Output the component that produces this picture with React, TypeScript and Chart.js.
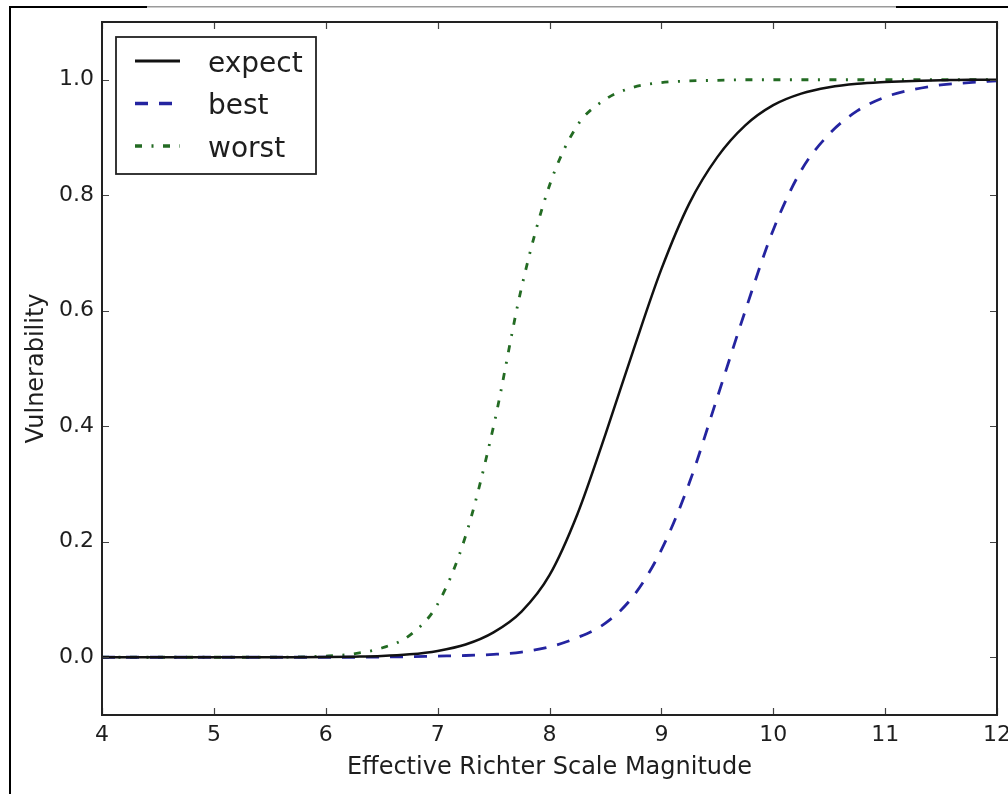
import { useEffect, useRef } from "react";
import { Chart, registerables } from "chart.js";

Chart.register(...registerables);

// ---- data ----
const magnitudes = [
  4, 4.25, 4.5, 4.75, 5, 5.25, 5.5, 5.75, 6, 6.25, 6.5, 6.75, 7, 7.25, 7.5, 7.75,
  8, 8.25, 8.5, 8.75, 9, 9.25, 9.5, 9.75, 10, 10.25, 10.5, 10.75, 11, 11.25, 11.5, 11.75, 12,
];
const expectValues = [
  0, 0, 0, 0, 0, 0, 0, 0.0002, 0.0005, 0.001, 0.002, 0.005, 0.011, 0.022, 0.043, 0.079,
  0.142, 0.248, 0.386, 0.532, 0.672, 0.786, 0.866, 0.921, 0.956, 0.976, 0.987, 0.993, 0.996, 0.998, 0.999, 1.0, 1.0,
];
const bestValues = [
  0, 0, 0, 0, 0, 0, 0, 0, 0, 0, 0.0005, 0.001, 0.002, 0.003, 0.005, 0.009,
  0.018, 0.034, 0.059, 0.106, 0.186, 0.302, 0.45, 0.6, 0.74, 0.843, 0.906, 0.946, 0.97, 0.983, 0.991, 0.995, 0.998,
];
const worstValues = [
  0, 0, 0, 0, 0, 0, 0, 0.0005, 0.002, 0.006, 0.016, 0.038, 0.092, 0.21, 0.4, 0.64,
  0.817, 0.921, 0.966, 0.987, 0.995, 0.998, 0.999, 1.0, 1.0, 1.0, 1.0, 1.0, 1.0, 1.0, 1.0, 1.0, 1.0,
];
const seriesLabels = ["expect", "best", "worst"];
const xTicks = [4, 5, 6, 7, 8, 9, 10, 11, 12];
const yTicks = [0, 0.2, 0.4, 0.6, 0.8, 1.0];
const xTitle = "Effective Richter Scale Magnitude";
const yTitle = "Vulnerability";

const FONT = "'DejaVu Sans', 'Liberation Sans', sans-serif";
const TEXT = "#1e1e1e";

const toPoints = (vals: number[]) => magnitudes.map((x, i) => ({ x, y: vals[i] }));

const framePlugin = {
  id: "frameAndLegend",
  beforeDraw(chart: any) {
    const ctx = chart.ctx;
    ctx.save();
    ctx.fillStyle = "#ffffff";
    ctx.fillRect(0, 0, chart.width, chart.height);
    ctx.restore();
  },
  afterDraw(chart: any) {
    const ctx = chart.ctx;
    const { left, top, right, bottom } = chart.chartArea;
    const xs = chart.scales.x;
    const ys = chart.scales.y;
    ctx.save();
    // inward tick marks
    ctx.strokeStyle = "#444444";
    ctx.lineWidth = 1.2;
    ctx.beginPath();
    xTicks.forEach((v) => {
      const px = Math.round(xs.getPixelForValue(v)) + 0.5;
      ctx.moveTo(px, bottom);
      ctx.lineTo(px, bottom - 7);
      ctx.moveTo(px, top);
      ctx.lineTo(px, top + 7);
    });
    yTicks.forEach((v) => {
      const py = Math.round(ys.getPixelForValue(v)) + 0.5;
      ctx.moveTo(left, py);
      ctx.lineTo(left + 7, py);
      ctx.moveTo(right, py);
      ctx.lineTo(right - 7, py);
    });
    ctx.stroke();
    // spines
    ctx.strokeStyle = "#222222";
    ctx.lineWidth = 2;
    ctx.strokeRect(left, top, right - left, bottom - top);

    // legend
    const lx = 116, ly = 37, lw = 200, lh = 137;
    ctx.fillStyle = "#ffffff";
    ctx.fillRect(lx, ly, lw, lh);
    ctx.strokeStyle = "#222222";
    ctx.lineWidth = 1.8;
    ctx.strokeRect(lx, ly, lw, lh);
    chart.data.datasets.forEach((ds: any, i: number) => {
      const rowY = 61 + i * 42.5;
      ctx.save();
      ctx.strokeStyle = ds.borderColor;
      ctx.lineWidth = ds.borderWidth + 0.5;
      ctx.setLineDash(ds.borderDash || []);
      ctx.beginPath();
      ctx.moveTo(135, rowY);
      ctx.lineTo(180, rowY);
      ctx.stroke();
      ctx.restore();
      ctx.fillStyle = TEXT;
      ctx.font = `28px ${FONT}`;
      ctx.textAlign = "left";
      ctx.textBaseline = "alphabetic";
      ctx.fillText(ds.label, 208, rowY + 10.5);
    });

    // outer frame (screenshot border)
    ctx.fillStyle = "#000000";
    ctx.fillRect(9, 6, 2, chart.height - 6);
    ctx.fillRect(9, 6, 138, 2);
    ctx.fillRect(896, 6, chart.width - 896, 2);
    ctx.fillStyle = "#9a9a9a";
    ctx.fillRect(147, 6, 749, 1.5);
    ctx.restore();
  },
};

export default function App() {
  const ref = useRef<HTMLCanvasElement | null>(null);
  useEffect(() => {
    document.body.style.margin = "0";
    const canvas = ref.current;
    if (!canvas) return;
    const chart = new Chart(canvas, {
      type: "line",
      data: {
        datasets: [
          {
            label: seriesLabels[0],
            data: toPoints(expectValues),
            borderColor: "#111111",
            borderWidth: 2.5,
            borderDash: [],
            pointRadius: 0,
            cubicInterpolationMode: "monotone",
            fill: false,
          },
          {
            label: seriesLabels[1],
            data: toPoints(bestValues),
            borderColor: "#2424a0",
            borderWidth: 2.8,
            borderDash: [13, 11],
            pointRadius: 0,
            cubicInterpolationMode: "monotone",
            fill: false,
          },
          {
            label: seriesLabels[2],
            data: toPoints(worstValues),
            borderColor: "#236b23",
            borderWidth: 2.8,
            borderDash: [7, 9.5, 2, 9.5],
            pointRadius: 0,
            cubicInterpolationMode: "monotone",
            fill: false,
          },
        ],
      } as any,
      options: {
        animation: false,
        responsive: false,
        devicePixelRatio: 1,
        layout: { padding: { left: 0, top: 22, right: 11, bottom: 0 } },
        plugins: { legend: { display: false }, tooltip: { enabled: false } },
        scales: {
          x: {
            type: "linear",
            min: 4,
            max: 12,
            afterBuildTicks: (s: any) => {
              s.ticks = xTicks.map((v) => ({ value: v }));
            },
            afterFit: (s: any) => {
              s.height = 79;
              s.paddingLeft = 0;
              s.paddingRight = 0;
            },
            grid: { display: false, drawTicks: false },
            border: { display: false },
            ticks: {
              autoSkip: false,
              maxRotation: 0,
              padding: 7,
              color: TEXT,
              font: { family: FONT, size: 22 },
              callback: (v: any) => String(v),
            },
            title: {
              display: true,
              text: xTitle,
              color: TEXT,
              font: { family: FONT, size: 24 },
              padding: { top: 0, bottom: 12 },
            },
          },
          y: {
            type: "linear",
            min: -0.1,
            max: 1.1,
            afterBuildTicks: (s: any) => {
              s.ticks = yTicks.map((v) => ({ value: v }));
            },
            afterFit: (s: any) => {
              s.width = 102;
              s.paddingTop = 0;
              s.paddingBottom = 0;
            },
            grid: { display: false, drawTicks: false },
            border: { display: false },
            ticks: {
              autoSkip: false,
              padding: 8,
              color: TEXT,
              font: { family: FONT, size: 22 },
              callback: (v: any) => Number(v).toFixed(1),
            },
            title: {
              display: true,
              text: yTitle,
              color: TEXT,
              font: { family: FONT, size: 24 },
              padding: { top: 22, bottom: 0 },
            },
          },
        },
      } as any,
      plugins: [framePlugin],
    });
    return () => chart.destroy();
  }, []);
  return (
    <canvas
      ref={ref}
      width={1008}
      height={794}
      style={{ display: "block", width: "1008px", height: "794px" }}
    />
  );
}
